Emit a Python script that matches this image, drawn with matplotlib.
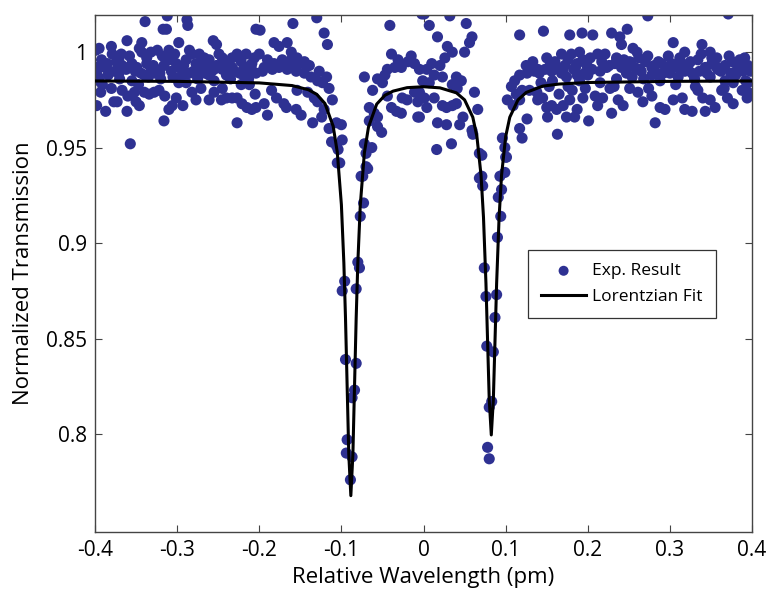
import matplotlib
matplotlib.use("Agg")
import matplotlib.pyplot as plt

plt.rcParams['font.family'] = ['Open Sans', 'DejaVu Sans']

exp_x = [
    # left band
    -0.312, -0.339, -0.288, -0.287, -0.317, -0.313, -0.361, -0.343, -0.298, -0.256,
    -0.252, -0.399, -0.395, -0.380, -0.379, -0.368, -0.371, -0.346, -0.343, -0.332,
    -0.324, -0.310, -0.285, -0.282, -0.273, -0.267, -0.261, -0.249, -0.245, -0.233,
    -0.227, -0.216, -0.206, -0.399, -0.398, -0.385, -0.383, -0.374, -0.367, -0.362,
    -0.355, -0.349, -0.344, -0.337, -0.332, -0.326, -0.316, -0.310, -0.301, -0.298,
    -0.289, -0.285, -0.277, -0.271, -0.263, -0.261, -0.252, -0.245, -0.240, -0.233,
    -0.224, -0.216, -0.209, -0.204, -0.391, -0.393, -0.398, -0.387, -0.377, -0.373,
    -0.367, -0.361, -0.352, -0.350, -0.346, -0.340, -0.334, -0.328, -0.322, -0.316,
    -0.310, -0.306, -0.301, -0.298, -0.289, -0.282, -0.277, -0.271, -0.261, -0.246,
    -0.240, -0.233, -0.227, -0.221, -0.215, -0.209, -0.227, -0.222, -0.212, -0.357,
    -0.204, -0.395, -0.370, -0.355, -0.335, -0.320, -0.305, -0.290, -0.275, -0.255,
    -0.235, -0.218, -0.392, -0.358, -0.337, -0.318, -0.303, -0.292, -0.268, -0.255,
    -0.238, -0.222, -0.212, -0.380, -0.360, -0.347, -0.315, -0.293, -0.255, -0.245,
    -0.205,
    -0.388, -0.376, -0.364, -0.351, -0.329, -0.321, -0.307, -0.294, -0.280, -0.266,
    -0.258, -0.242, -0.230, -0.219, -0.210, -0.396, -0.384, -0.371, -0.340, -0.327,
    -0.296, -0.279, -0.264, -0.237, -0.213,
    # around first dip and centre
    -0.199, -0.159, -0.130, -0.121, -0.117, -0.041, -0.002, -0.182, -0.176, -0.166,
    -0.161, -0.200, -0.190, -0.182, -0.172, -0.161, -0.154, -0.145, -0.139, -0.127,
    -0.118, -0.194, -0.184, -0.176, -0.166, -0.155, -0.145, -0.137, -0.129, -0.123,
    -0.115, -0.185, -0.179, -0.194, -0.204, -0.190, -0.170, -0.167, -0.155, -0.149,
    -0.154, -0.141, -0.133, -0.129, -0.135, -0.124, -0.121, -0.111, -0.115, -0.106,
    -0.100, -0.112, -0.106, -0.099, -0.102, -0.072, -0.062, -0.056, -0.050, -0.044,
    -0.039, -0.035, -0.027, -0.015, -0.011, -0.005, -0.066, -0.060, -0.056, -0.066,
    -0.044, -0.039, -0.033, -0.027, -0.026, -0.020, -0.011, -0.007, -0.007, -0.056,
    -0.051, -0.072, -0.063, -0.070, -0.076,
    -0.188, -0.171, -0.158, -0.150, -0.142, -0.196, -0.031, -0.019, -0.047,
    # first dip
    -0.104, -0.105, -0.070, -0.068, -0.074, -0.073, -0.077, -0.080, -0.078, -0.096,
    -0.099, -0.082, -0.095, -0.082, -0.084, -0.087, -0.093, -0.094, -0.087, -0.089,
    # centre and second dip
    0.001, 0.032, 0.007, 0.017, 0.052, 0.059, 0.056, 0.050, 0.035, 0.029,
    0.026, 0.020, 0.010, 0.004, 0.013, 0.007, -0.001, 0.023, 0.040, 0.046,
    0.041, 0.035, -0.005, 0.001, 0.013, 0.004, -0.005, 0.023, 0.028, 0.035,
    0.040, 0.048, 0.044, 0.028, 0.017, 0.062, 0.066, 0.059, 0.060, 0.016,
    0.034, 0.068, 0.071,
    0.071, 0.100, 0.068, 0.072, 0.095, 0.091, 0.094, 0.090, 0.074, 0.076,
    0.089, 0.087, 0.077, 0.085, 0.083, 0.080, 0.078, 0.080,
    # right of second dip
    0.117, 0.146, 0.178, 0.193, 0.168, 0.180, 0.190, 0.176, 0.187, 0.194,
    0.111, 0.117, 0.126, 0.135, 0.139, 0.148, 0.156, 0.162, 0.168, 0.174,
    0.187, 0.196, 0.107, 0.102, 0.109, 0.117, 0.129, 0.138, 0.139, 0.145,
    0.150, 0.156, 0.162, 0.170, 0.178, 0.187, 0.194, 0.126, 0.117, 0.120,
    0.151, 0.174, 0.163, 0.184, 0.096, 0.099, 0.101, 0.099, 0.093,
    0.125, 0.133, 0.150, 0.160, 0.172, 0.183, 0.190, 0.143, 0.157, 0.120,
    0.165, 0.181, 0.197,
    0.131, 0.141, 0.154, 0.170, 0.185, 0.113, 0.153, 0.176,
    # right band
    0.273, 0.371, 0.206, 0.229, 0.239, 0.248, 0.241, 0.304, 0.339, 0.318,
    0.255, 0.260, 0.212, 0.235, 0.273, 0.349, 0.351, 0.357, 0.391,
    0.199, 0.205, 0.217, 0.223, 0.233, 0.241, 0.251, 0.257, 0.263, 0.270,
    0.278, 0.284, 0.290, 0.296, 0.302, 0.309, 0.315, 0.321, 0.327, 0.334,
    0.343, 0.351, 0.359, 0.367, 0.376, 0.382, 0.388, 0.395,
    0.200, 0.215, 0.235, 0.254, 0.278, 0.288, 0.310, 0.330, 0.349, 0.367,
    0.377, 0.395,
    0.209, 0.218, 0.212, 0.227, 0.237, 0.243, 0.251, 0.261, 0.267, 0.278,
    0.288, 0.294, 0.304, 0.315, 0.318, 0.327, 0.334, 0.340, 0.343, 0.349,
    0.355, 0.363, 0.370, 0.377, 0.388, 0.394, 0.395, 0.229, 0.201, 0.282,
    0.203, 0.221, 0.244, 0.262, 0.286, 0.298, 0.312, 0.325, 0.338, 0.355,
    0.372, 0.385, 0.398, 0.215, 0.247, 0.268, 0.292, 0.318, 0.345, 0.362,
    0.380, 0.392,
    0.226, 0.250, 0.265, 0.281, 0.300, 0.322, 0.336, 0.358, 0.374, 0.389,
    0.232, 0.274, 0.307, 0.331, 0.366,
]
exp_y = [
    1.019, 1.016, 1.017, 1.014, 1.012, 1.012, 1.006, 1.005, 1.005, 1.006,
    1.004, 1.001, 1.002, 1.003, 0.999, 0.999, 0.996, 1.002, 1.000, 1.000,
    1.001, 1.001, 1.001, 0.999, 0.999, 0.997, 0.996, 0.999, 0.997, 0.997,
    0.999, 0.999, 0.997, 0.992, 0.990, 0.994, 0.990, 0.995, 0.993, 0.991,
    0.994, 0.992, 0.989, 0.994, 0.990, 0.991, 0.993, 0.996, 0.994, 0.992,
    0.996, 0.989, 0.994, 0.991, 0.992, 0.988, 0.993, 0.991, 0.988, 0.992,
    0.989, 0.992, 0.994, 0.989, 0.983, 0.979, 0.972, 0.969, 0.974, 0.974,
    0.980, 0.969, 0.979, 0.974, 0.972, 0.979, 0.978, 0.979, 0.980, 0.964,
    0.970, 0.972, 0.976, 0.984, 0.984, 0.979, 0.975, 0.981, 0.975, 0.975,
    0.976, 0.976, 0.976, 0.973, 0.971, 0.970, 0.963, 0.983, 0.983, 0.952,
    1.012, 0.985, 0.986, 0.985, 0.987, 0.986, 0.987, 0.988, 0.986, 0.985,
    0.986, 0.987, 0.996, 0.998, 0.997, 0.998, 0.999, 0.993, 0.995, 0.991,
    0.994, 0.995, 0.989, 0.981, 0.977, 0.983, 0.977, 0.972, 0.979, 0.981,
    0.978,
    0.992, 0.990, 0.992, 0.990, 0.993, 0.989, 0.990, 0.991, 0.990, 0.989,
    0.990, 0.993, 0.990, 0.991, 0.992, 0.987, 0.988, 0.989, 0.988, 0.989,
    0.987, 0.989, 0.989, 0.988, 0.986,
    1.0115, 1.015, 1.018, 1.010, 1.004, 1.014, 1.020, 1.005, 1.003, 1.005,
    1.000, 0.999, 0.996, 0.994, 0.996, 0.996, 0.997, 0.995, 0.993, 0.990,
    0.987, 0.992, 0.991, 0.992, 0.991, 0.990, 0.989, 0.987, 0.985, 0.984,
    0.981, 0.980, 0.976, 0.973, 0.971, 0.967, 0.973, 0.971, 0.970, 0.967,
    0.980, 0.979, 0.976, 0.974, 0.963, 0.966, 0.970, 0.975, 0.960, 0.963,
    0.962, 0.953, 0.951, 0.954, 0.942, 0.987, 0.980, 0.986, 0.984, 0.991,
    0.999, 0.992, 0.992, 0.998, 0.994, 0.991, 0.971, 0.968, 0.966, 0.964,
    0.977, 0.971, 0.969, 0.968, 0.976, 0.975, 0.979, 0.974, 0.966, 0.961,
    0.958, 0.952, 0.950, 0.940, 0.935,
    0.994, 0.993, 0.992, 0.994, 0.993, 0.990, 0.996, 0.995, 0.988,
    0.949, 0.942, 0.947, 0.939, 0.935, 0.921, 0.914, 0.890, 0.887, 0.880,
    0.875, 0.876, 0.839, 0.837, 0.823, 0.819, 0.797, 0.790, 0.788, 0.776,
    1.020, 1.019, 1.014, 1.008, 1.015, 1.008, 1.005, 1.000, 1.000, 1.003,
    0.997, 0.993, 0.994, 0.991, 0.988, 0.984, 0.985, 0.987, 0.987, 0.985,
    0.981, 0.983, 0.979, 0.976, 0.976, 0.971, 0.966, 0.972, 0.971, 0.972,
    0.973, 0.966, 0.962, 0.962, 0.963, 0.979, 0.970, 0.959, 0.957, 0.949,
    0.952, 0.947, 0.935,
    0.946, 0.945, 0.934, 0.930, 0.928, 0.924, 0.914, 0.903, 0.887, 0.872,
    0.873, 0.861, 0.846, 0.843, 0.817, 0.814, 0.793, 0.787,
    1.009, 1.011, 1.009, 1.010, 0.999, 0.999, 1.000, 0.996, 0.994, 0.996,
    0.985, 0.988, 0.989, 0.990, 0.991, 0.991, 0.990, 0.992, 0.989, 0.987,
    0.988, 0.989, 0.982, 0.975, 0.972, 0.975, 0.980, 0.979, 0.975, 0.976,
    0.971, 0.972, 0.970, 0.972, 0.975, 0.970, 0.976, 0.965, 0.960, 0.955,
    0.966, 0.966, 0.957, 0.966, 0.955, 0.950, 0.945, 0.937, 0.935,
    0.993, 0.995, 0.997, 0.995, 0.993, 0.991, 0.985, 0.984, 0.985, 0.980,
    0.978, 0.980, 0.981,
    0.991, 0.989, 0.993, 0.990, 0.992, 0.978, 0.982, 0.982,
    1.019, 1.020, 1.009, 1.010, 1.008, 1.012, 1.004, 1.005, 1.004, 1.000,
    1.002, 1.000, 0.999, 0.997, 0.998, 1.000, 0.997, 0.997, 0.997,
    0.993, 0.991, 0.995, 0.992, 0.994, 0.992, 0.995, 0.992, 0.991, 0.995,
    0.992, 0.989, 0.994, 0.992, 0.994, 0.992, 0.994, 0.991, 0.989, 0.996,
    0.992, 0.994, 0.991, 0.993, 0.995, 0.991, 0.992, 0.993,
    0.988, 0.984, 0.986, 0.987, 0.988, 0.985, 0.987, 0.986, 0.987, 0.985,
    0.984, 0.984,
    0.977, 0.976, 0.972, 0.981, 0.975, 0.972, 0.981, 0.979, 0.974, 0.977,
    0.971, 0.970, 0.975, 0.976, 0.970, 0.969, 0.980, 0.976, 0.969, 0.975,
    0.971, 0.980, 0.976, 0.973, 0.980, 0.976, 0.979, 0.968, 0.964, 0.963,
    0.997, 0.999, 0.996, 0.997, 0.995, 0.998, 0.997, 0.995, 0.999, 0.993,
    0.998, 0.996, 0.990, 0.990, 0.989, 0.986, 0.989, 0.990, 0.989, 0.990,
    0.988, 0.985,
    0.993, 0.994, 0.990, 0.993, 0.989, 0.993, 0.990, 0.991, 0.989, 0.990,
    0.982, 0.981, 0.983, 0.982, 0.981,
]

# Lorentzian fit curve
fit_x = [-0.4, -0.3, -0.2, -0.16, -0.14, -0.13, -0.12, -0.11, -0.105, -0.10,
         -0.097, -0.095, -0.093, -0.091, -0.0885, -0.086, -0.084, -0.082, -0.080,
         -0.077, -0.072, -0.067, -0.057, -0.047, -0.037, -0.02, 0.0, 0.02, 0.04,
         0.05, 0.06, 0.065, 0.07, 0.073, 0.076, 0.078, 0.080, 0.0825, 0.085,
         0.087, 0.089, 0.092, 0.095, 0.100, 0.105, 0.115, 0.125, 0.145, 0.165,
         0.2, 0.3, 0.4]
fit_y = [0.9849, 0.9847, 0.9839, 0.9825, 0.9803, 0.9779, 0.9731, 0.9612, 0.9476, 0.9201,
         0.8897, 0.8608, 0.8252, 0.7894, 0.7677, 0.7893, 0.8251, 0.8606, 0.8895,
         0.9198, 0.9473, 0.9608, 0.9728, 0.9774, 0.9796, 0.9814, 0.9819, 0.9813, 0.9787,
         0.9750, 0.9659, 0.9558, 0.9356, 0.9135, 0.8789, 0.8485, 0.8180, 0.7995, 0.8180,
         0.8485, 0.8789, 0.9135, 0.9356, 0.9558, 0.9659, 0.9750, 0.9789, 0.9822, 0.9833,
         0.9841, 0.9847, 0.9849]

xticks = [-0.4, -0.3, -0.2, -0.1, 0, 0.1, 0.2, 0.3, 0.4]
xtick_labels = ['-0.4', '-0.3', '-0.2', '-0.1', '0', '0.1', '0.2', '0.3', '0.4']
yticks = [0.8, 0.85, 0.9, 0.95, 1.0]
ytick_labels = ['0.8', '0.85', '0.9', '0.95', '1']

fig = plt.figure(figsize=(7.69, 5.97), dpi=100)
ax = fig.add_axes([0.1235, 0.109, 0.8545, 0.866])

ax.scatter(exp_x, exp_y, s=64, color='#2E3192', edgecolors='none', label='Exp. Result', zorder=2)
ax.plot(fit_x, fit_y, color='black', lw=2.2, label='Lorentzian Fit', zorder=3)

ax.set_xlim(-0.4, 0.4)
ax.set_ylim(0.7487, 1.0195)
ax.set_xticks(xticks, xtick_labels)
ax.set_yticks(yticks, ytick_labels)
ax.tick_params(direction='in', length=5, width=0.8, labelsize=15, color='#444444',
               top=True, right=True, pad=6)
for sp in ax.spines.values():
    sp.set_color('#444444')
    sp.set_linewidth(1.0)

ax.set_xlabel('Relative Wavelength (pm)', fontsize=16, labelpad=4)
ax.set_ylabel('Normalized Transmission', fontsize=16, labelpad=8)

leg = ax.legend(loc='upper left', bbox_to_anchor=(0.659, 0.545), borderaxespad=0,
                fontsize=12.5, fancybox=False, edgecolor='#333333', framealpha=1,
                handlelength=2.6, borderpad=0.75, labelspacing=0.55, handletextpad=0.35,
                markerscale=0.9)
leg.get_frame().set_linewidth(0.9)

plt.savefig('out.png', dpi=100)
